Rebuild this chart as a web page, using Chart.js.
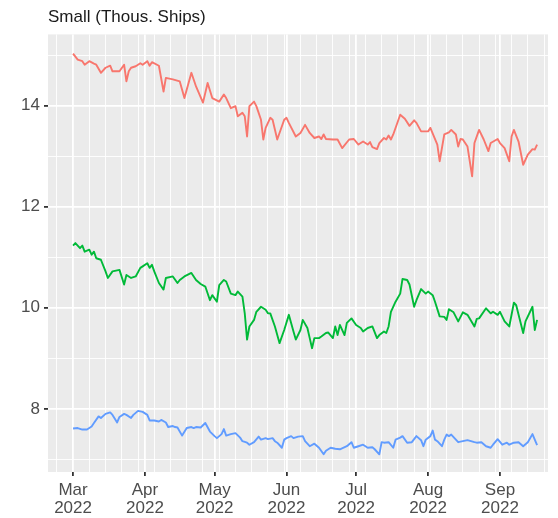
<!DOCTYPE html>
<html>
<head>
<meta charset="utf-8">
<script src="https://cdn.jsdelivr.net/npm/chart.js@4/dist/chart.umd.min.js"></script>
<style>
  html, body { margin: 0; padding: 0; background: #fff; }
  #wrap { width: 558px; height: 518px; }
</style>
</head>
<body>
<div id="wrap"><canvas id="chart"></canvas></div>
<script>
// x values are days since 1 Mar 2022
const monthTicks = [0, 31, 61, 92, 122, 153, 184];
const monthLabels = ['Mar', 'Apr', 'May', 'Jun', 'Jul', 'Aug', 'Sep'];
const yearLabel = '2022';
const yTicks = [7, 8, 9, 10, 11, 12, 13, 14, 15];
const yLabels = [8, 10, 12, 14];

const redDays = [0, 2, 4, 5, 7, 9, 10, 12, 14, 16, 17, 20, 22, 23, 24, 25, 27, 29, 30, 32, 33, 34, 37, 39, 40, 43, 46, 48, 51, 53, 56, 58, 60, 63, 65, 66, 68, 70, 71, 73, 74, 75, 76, 78, 79, 81, 82, 83, 85, 86, 88, 91, 92, 93, 96, 98, 100, 102, 104, 106, 107, 108, 109, 112, 114, 116, 119, 121, 123, 125, 127, 128, 129, 131, 132, 134, 135, 136, 137, 138, 141, 143, 145, 147, 148, 150, 152, 153, 154, 157, 158, 160, 162, 163, 165, 166, 167, 168, 170, 172, 173, 175, 177, 179, 180, 183, 184, 186, 188, 189, 190, 192, 194, 196, 198, 199, 200];
const redVals = [15.03, 14.91, 14.88, 14.81, 14.88, 14.83, 14.81, 14.65, 14.75, 14.79, 14.68, 14.68, 14.81, 14.48, 14.68, 14.75, 14.78, 14.84, 14.81, 14.88, 14.79, 14.86, 14.79, 14.28, 14.55, 14.52, 14.48, 14.15, 14.65, 14.38, 14.06, 14.45, 14.15, 14.08, 14.22, 14.15, 13.95, 13.99, 13.79, 13.86, 13.79, 13.39, 13.99, 14.08, 13.99, 13.72, 13.33, 13.56, 13.76, 13.72, 13.33, 13.72, 13.76, 13.66, 13.39, 13.46, 13.62, 13.46, 13.36, 13.39, 13.34, 13.43, 13.34, 13.33, 13.33, 13.16, 13.33, 13.34, 13.23, 13.29, 13.23, 13.28, 13.18, 13.14, 13.26, 13.36, 13.33, 13.41, 13.33, 13.43, 13.82, 13.74, 13.60, 13.71, 13.66, 13.49, 13.49, 13.49, 13.56, 13.23, 12.90, 13.43, 13.47, 13.52, 13.43, 13.19, 13.34, 13.33, 13.19, 12.60, 13.26, 13.52, 13.33, 13.10, 13.26, 13.34, 13.26, 13.16, 12.90, 13.39, 13.52, 13.29, 12.83, 13.03, 13.14, 13.13, 13.23];

const greenDays = [0, 1, 3, 4, 5, 7, 8, 9, 10, 12, 14, 15, 17, 20, 22, 23, 25, 27, 29, 30, 32, 33, 34, 35, 37, 39, 40, 43, 45, 46, 48, 51, 53, 55, 57, 59, 60, 62, 63, 65, 66, 68, 70, 71, 73, 74, 75, 76, 78, 79, 81, 83, 84, 85, 87, 89, 91, 93, 95, 96, 98, 99, 101, 102, 103, 104, 106, 107, 109, 110, 112, 113, 114, 115, 117, 118, 120, 122, 124, 125, 127, 129, 131, 132, 134, 135, 136, 137, 139, 141, 142, 144, 145, 147, 148, 150, 152, 153, 155, 156, 158, 160, 161, 162, 164, 166, 168, 170, 173, 174, 175, 178, 180, 181, 183, 184, 186, 188, 190, 191, 194, 195, 198, 199, 200];
const greenVals = [11.23, 11.28, 11.18, 11.23, 11.11, 11.15, 11.05, 11.11, 10.98, 10.95, 10.72, 10.59, 10.72, 10.75, 10.46, 10.65, 10.59, 10.62, 10.79, 10.82, 10.88, 10.79, 10.85, 10.72, 10.49, 10.36, 10.59, 10.62, 10.49, 10.55, 10.62, 10.69, 10.55, 10.47, 10.42, 10.15, 10.25, 10.12, 10.45, 10.55, 10.52, 10.28, 10.25, 10.32, 10.22, 9.89, 9.37, 9.63, 9.76, 9.92, 10.02, 9.96, 9.89, 9.89, 9.63, 9.30, 9.56, 9.86, 9.53, 9.37, 9.56, 9.76, 9.60, 9.40, 9.20, 9.40, 9.40, 9.43, 9.50, 9.51, 9.40, 9.63, 9.46, 9.66, 9.46, 9.70, 9.79, 9.66, 9.60, 9.53, 9.60, 9.63, 9.40, 9.46, 9.53, 9.50, 9.63, 9.92, 10.12, 10.28, 10.57, 10.55, 10.46, 10.02, 10.15, 10.37, 10.28, 10.32, 10.25, 10.12, 9.83, 9.82, 9.76, 9.97, 9.91, 9.73, 9.91, 9.86, 9.63, 9.78, 9.79, 9.99, 9.89, 9.92, 9.86, 9.92, 9.73, 9.63, 10.10, 10.05, 9.50, 9.73, 10.02, 9.56, 9.76];

const blueDays = [0, 2, 4, 6, 8, 9, 11, 12, 14, 16, 17, 19, 20, 22, 23, 25, 26, 28, 30, 32, 33, 35, 37, 38, 40, 41, 43, 44, 45, 47, 49, 51, 52, 53, 55, 57, 59, 61, 62, 64, 65, 66, 68, 70, 72, 73, 75, 76, 78, 80, 81, 83, 84, 86, 87, 88, 90, 91, 92, 94, 95, 97, 99, 100, 102, 104, 106, 108, 109, 111, 113, 115, 118, 120, 121, 123, 125, 127, 129, 130, 132, 133, 134, 136, 138, 139, 141, 142, 144, 146, 148, 150, 151, 152, 154, 155, 156, 157, 159, 160, 161, 162, 163, 165, 166, 168, 170, 173, 174, 176, 178, 180, 181, 183, 185, 187, 188, 190, 192, 194, 196, 198, 199, 200];
const blueVals = [7.61, 7.62, 7.59, 7.59, 7.65, 7.72, 7.85, 7.82, 7.90, 7.93, 7.88, 7.73, 7.84, 7.90, 7.88, 7.82, 7.88, 7.96, 7.94, 7.88, 7.77, 7.77, 7.75, 7.78, 7.73, 7.64, 7.66, 7.64, 7.63, 7.47, 7.62, 7.64, 7.62, 7.64, 7.63, 7.72, 7.55, 7.46, 7.42, 7.50, 7.60, 7.47, 7.50, 7.52, 7.43, 7.36, 7.33, 7.29, 7.34, 7.45, 7.39, 7.42, 7.40, 7.42, 7.36, 7.33, 7.23, 7.39, 7.42, 7.46, 7.42, 7.45, 7.46, 7.36, 7.26, 7.31, 7.23, 7.10, 7.17, 7.23, 7.21, 7.20, 7.26, 7.34, 7.23, 7.26, 7.29, 7.23, 7.24, 7.20, 7.10, 7.34, 7.33, 7.34, 7.23, 7.39, 7.43, 7.46, 7.33, 7.34, 7.46, 7.38, 7.26, 7.39, 7.46, 7.57, 7.39, 7.36, 7.26, 7.39, 7.49, 7.46, 7.49, 7.39, 7.34, 7.36, 7.38, 7.34, 7.33, 7.34, 7.26, 7.23, 7.29, 7.40, 7.29, 7.33, 7.29, 7.33, 7.34, 7.26, 7.34, 7.50, 7.39, 7.28];

function toPoints(days, vals) {
  return days.map((d, i) => ({ x: d, y: vals[i] }));
}

// weekly minor breaks (Tuesdays), plus the month starts
const xTicks = [];
for (let d = -7; d <= 203; d += 7) xTicks.push(d);
monthTicks.forEach((m) => { if (xTicks.indexOf(m) < 0) xTicks.push(m); });
xTicks.sort((a, b) => a - b);

const isMonth = (v) => monthTicks.indexOf(v) >= 0;
const isMajorY = (v) => yLabels.indexOf(v) >= 0;

const panelBg = {
  id: 'panelBg',
  beforeDraw(chart) {
    const { ctx, chartArea } = chart;
    ctx.save();
    ctx.fillStyle = '#EBEBEB';
    ctx.fillRect(chartArea.left, chartArea.top, chartArea.right - chartArea.left, chartArea.bottom - chartArea.top);
    ctx.restore();
  },
};

const fontFamily = '"Liberation Sans", Arial, Helvetica, sans-serif';

new Chart(document.getElementById('chart'), {
  type: 'line',
  data: {
    datasets: [
      { label: 'red', data: toPoints(redDays, redVals), borderColor: '#F8766D' },
      { label: 'green', data: toPoints(greenDays, greenVals), borderColor: '#00BA38' },
      { label: 'blue', data: toPoints(blueDays, blueVals), borderColor: '#619CFF' },
    ],
  },
  options: {
    responsive: true,
    maintainAspectRatio: false,
    animation: false,
    events: [],
    layout: { padding: { left: 0, right: 10, top: 0, bottom: 0 } },
    elements: {
      line: { borderWidth: 1.9, tension: 0, borderJoinStyle: 'round' },
      point: { radius: 0 },
    },
    plugins: {
      legend: { display: false },
      tooltip: { enabled: false },
      title: {
        display: true,
        text: 'Small (Thous. Ships)',
        align: 'start',
        fullSize: false,
        color: '#1A1A1A',
        font: { family: fontFamily, size: 17, weight: 'normal', lineHeight: 1.2 },
        padding: { top: 7, bottom: 7 },
      },
    },
    scales: {
      x: {
        type: 'linear',
        min: -10.8,
        max: 204.7,
        afterBuildTicks(scale) {
          scale.ticks = xTicks.map((v) => ({ value: v }));
        },
        afterFit(scale) { scale.height = 46; },
        border: { display: false },
        grid: {
          color: '#FFFFFF',
          lineWidth: (c) => (isMonth(c.tick.value) ? 1.8 : 0.9),
          tickColor: (c) => (isMonth(c.tick.value) ? '#333333' : 'rgba(0,0,0,0)'),
          tickLength: 4,
        },
        ticks: {
          autoSkip: false,
          maxRotation: 0,
          padding: 5,
          color: '#4D4D4D',
          font: { family: fontFamily, size: 17, lineHeight: 1.08 },
          callback(v) {
            const i = monthTicks.indexOf(v);
            return i >= 0 ? [monthLabels[i], yearLabel] : '';
          },
        },
      },
      y: {
        min: 6.75,
        max: 15.41,
        afterBuildTicks(scale) {
          scale.ticks = yTicks.map((v) => ({ value: v }));
        },
        afterFit(scale) { scale.width = 48; },
        border: { display: false },
        grid: {
          color: '#FFFFFF',
          lineWidth: (c) => (isMajorY(c.tick.value) ? 1.8 : 0.9),
          tickColor: (c) => (isMajorY(c.tick.value) ? '#333333' : 'rgba(0,0,0,0)'),
          tickLength: 4,
        },
        ticks: {
          autoSkip: false,
          padding: 4,
          color: '#4D4D4D',
          font: { family: fontFamily, size: 17 },
          callback(v) { return isMajorY(v) ? String(v) : ''; },
        },
      },
    },
  },
  plugins: [panelBg],
});
</script>
</body>
</html>
